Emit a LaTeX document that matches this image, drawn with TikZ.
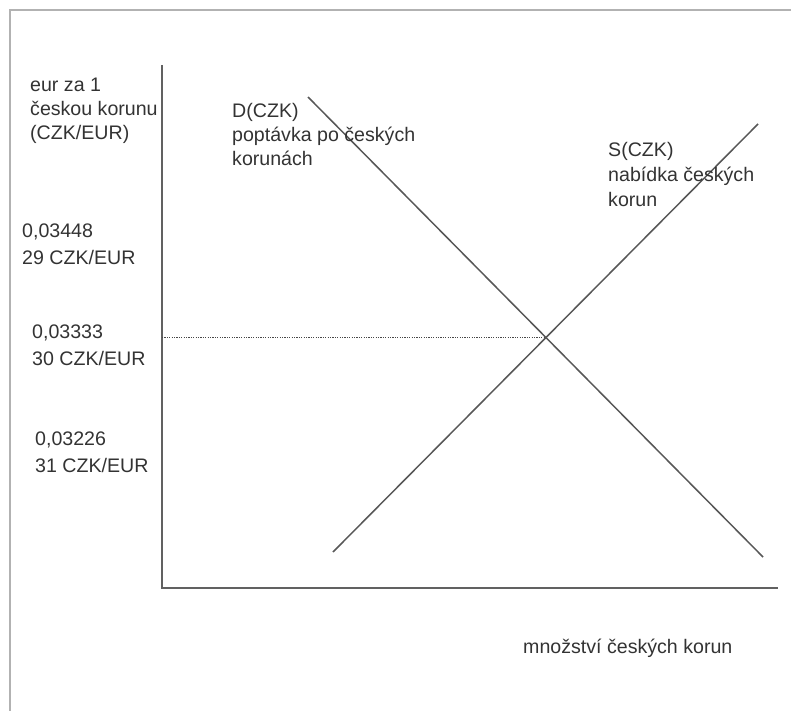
\documentclass[tikz,border=0pt]{standalone}
\usepackage{fontspec}
\setmainfont{Liberation Sans}
\usepackage{tikz}
\usetikzlibrary{positioning,calc}

\begin{document}
\begin{tikzpicture}[x=1pt,y=-1pt,
    lbl/.style={anchor=north west,inner sep=0pt,align=left,text=black!80,font=\fontsize{19.6}{24}\selectfont},
    val/.style={lbl,font=\fontsize{19.6}{27}\selectfont},
    ax/.style={draw=black!62,line width=1.8pt},
    crv/.style={draw=black!66,line width=1.5pt}]
    \useasboundingbox (0,0) rectangle (791,711);
    % frame
    \draw[black!30,line width=1.5pt] (791,10) -- (10,10) -- (10,711);
    \coordinate (O) at (162,588);
    \coordinate (Ytop) at (162,65);
    \coordinate (Xend) at (778,588);
    \coordinate (D1) at (308,97);
    \coordinate (D2) at (763,557);
    \coordinate (S1) at (333,552);
    \coordinate (S2) at (758,124);
    \coordinate (E) at (intersection of D1--D2 and S1--S2);
    \coordinate (Ey) at (O |- E);
    % axes
    \draw[ax] (Ytop) -- (O) -- (Xend);
    \path [crv](D1) edge node {} (D2);
    \path [crv](S1) edge node {} (S2);
    \path [dash pattern=on 1.2pt off 1.2pt,line width=1.4pt,draw=black!72](Ey) edge node {} (E);
    % labels
    \node[lbl] (ylab) at (30,78) {eur za 1\\českou korunu\\(CZK/EUR)};
    \node[lbl] (dlab) at (232,103) {D(CZK)\\poptávka po českých\\korunách};
    \node[lbl,font=\fontsize{19.6}{25}\selectfont] (slab) at (608,142) {S(CZK)\\nabídka českých\\korun};
    \node[val] (v29) at (22,224) {0,03448\\29 CZK/EUR};
    \node[val] (v30) at (32,325) {0,03333\\30 CZK/EUR};
    \node[val] (v31) at (35,432) {0,03226\\31 CZK/EUR};
    \node[lbl,anchor=base west] (xlab) at (523,653) {množství českých korun};
\end{tikzpicture}
\end{document}
